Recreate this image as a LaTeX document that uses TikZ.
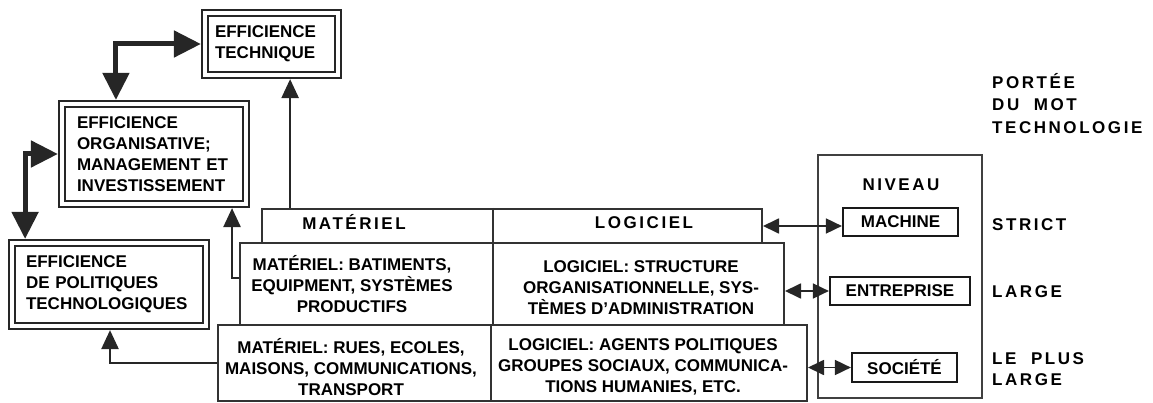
\documentclass[tikz,border=0pt]{standalone}
\usepackage{fontspec}
\setmainfont{Liberation Sans}
\newfontfamily\spacedfont{Liberation Sans}[LetterSpace=15]
\usetikzlibrary{arrows.meta,calc}

\begin{document}
\begin{tikzpicture}[x=1pt,y=-1pt,
  boxfont/.style={font=\fontsize{17}{21}\selectfont\bfseries},
  headfont/.style={font=\fontsize{17}{22.5}\selectfont\spacedfont\bfseries},
  dbox/.style={draw=black!85, double, double distance=3.8pt, line width=2.2pt,
    outer sep=4.1pt, inner ysep=0pt, boxfont, align=left},
  rowbox/.style={draw=black!80, line width=2pt, outer sep=1pt, inner sep=0pt},
  levelbox/.style={draw=black!90, line width=2.2pt, inner sep=0pt, outer sep=1.1pt, boxfont},
  celltext/.style={boxfont, align=center, inner sep=0pt},
  heading/.style={headfont, inner sep=0pt},
  sidelabel/.style={headfont, align=left, anchor=west, inner sep=0pt},
  bigarrow/.style={draw=black!85, line width=5pt,
    {Triangle[length=27pt,width=26pt]}-{Triangle[length=27pt,width=26pt]}},
  midarrow/.style={draw=black!85, line width=2.5pt, -{Triangle[length=19pt,width=17pt]}},
  smallarrow/.style={draw=black!85, line width=1.8pt,
    {Triangle[length=16pt,width=15pt]}-{Triangle[length=16pt,width=15pt]}}
]
\useasboundingbox (0,0) rectangle (1153,403);

% efficiency boxes (double frames)
\node[dbox, minimum width=133pt, minimum height=62pt, text width=113pt, inner xsep=10pt]
  (tech) at (271.5,44) {EFFICIENCE\\TECHNIQUE};
\node[dbox, minimum width=184pt, minimum height=100pt, text width=154pt, inner xsep=15pt]
  (org) at (154,154) {EFFICIENCE\\ORGANISATIVE;\\MANAGEMENT ET\\INVESTISSEMENT};
\node[dbox, minimum width=194pt, minimum height=83pt, text width=166pt, inner xsep=14pt]
  (policy) at (109,284.5) {EFFICIENCE\\DE POLITIQUES\\TECHNOLOGIQUES};

% stacked rows: hardware / software
\node[rowbox, minimum width=589pt, minimum height=76pt] (row3) at (512.5,363) {};
\node[rowbox, minimum width=544pt, minimum height=82pt] (row2) at (512,284) {};
\node[rowbox, minimum width=500pt, minimum height=34pt] (row1) at (512,226) {};
\draw[draw=black!80, line width=2pt] (row1.north -| 493,0) -- (row2.south -| 493,0);
\draw[draw=black!80, line width=2pt] (row3.north -| 491,0) -- (row3.south -| 491,0);

\node[heading] (mat1) at (354,222) {MATÉRIEL};
\node[heading] (log1) at (644,223) {LOGICIEL};
\node[celltext] (mat2) at (352,284) {MATÉRIEL: BATIMENTS,\\EQUIPMENT, SYSTÈMES\\PRODUCTIFS};
\node[celltext] (log2) at (641,288) {LOGICIEL: STRUCTURE\\ORGANISATIONNELLE, SYS-\\TÈMES D'ADMINISTRATION};
\node[celltext] (mat3) at (351,367) {MATÉRIEL: RUES, ECOLES,\\MAISONS, COMMUNICATIONS,\\TRANSPORT};
\node[celltext] (log3) at (643,367) {LOGICIEL: AGENTS POLITIQUES\\GROUPES SOCIAUX, COMMUNICA-\\TIONS HUMANIES, ETC.};

% level frame
\node[draw=black!75, line width=1.6pt, minimum width=164pt, minimum height=243pt, inner sep=0pt]
  (frame) at (900,276.5) {};
\node[heading] (niveau) at (901,185) {NIVEAU};
\node[levelbox, minimum width=115pt, minimum height=28pt] (machine) at (900.5,222) {MACHINE};
\node[levelbox, minimum width=140pt, minimum height=28pt] (entreprise) at (900,291) {ENTREPRISE};
\node[levelbox, minimum width=105pt, minimum height=29pt] (societe) at (904.5,367.5) {SOCIÉTÉ};

% scope of the word
\node[sidelabel] (portee) at (992,103.5) {PORTÉE\\DU\ \ MOT\\TECHNOLOGIE};
\node[sidelabel] (strict) at (992,225) {STRICT};
\node[sidelabel] (large) at (992,291.5) {LARGE};
\node[sidelabel, font=\fontsize{17}{21.5}\selectfont\spacedfont\bfseries] (plus) at (992,369) {LE\ \ PLUS\\LARGE};

% connector end points
\coordinate (orgtop) at ($(org.north west)!0.302!(org.north east)$);
\coordinate (poltop) at ($(policy.north west)!0.085!(policy.north east)$);
\coordinate (row1up) at ($(row1.north west)!0.058!(row1.north east)$);
\coordinate (row2side) at ($(row2.north west)!0.43!(row2.south west)$);
\coordinate (orgbottom) at ($(org.south west)!0.906!(org.south east)$);
\coordinate (polbottom) at ($(policy.south west)!0.505!(policy.south east)$);

% links between the efficiency boxes
\draw[bigarrow] (orgtop) |- (tech.west);
\draw[bigarrow] (org.west) -| (poltop);

% links from the rows to the efficiency boxes
\draw[midarrow] (row1up) -- (row1up |- tech.south);
\draw[midarrow] (row2side) -| (orgbottom);
\draw[midarrow] (row3.west) -| (polbottom);

% links from the rows to the levels
\draw[smallarrow] (row1.east) -- (row1.east -| machine.west);
\draw[smallarrow] (entreprise.west -| row2.east) -- (entreprise.west);
\draw[smallarrow] (societe.west -| row3.east) -- (societe.west);
\end{tikzpicture}
\end{document}
